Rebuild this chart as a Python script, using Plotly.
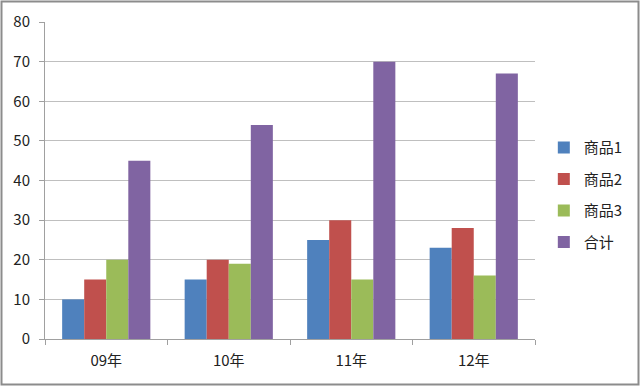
import plotly.graph_objects as go

categories = ["09年", "10年", "11年", "12年"]
series_names = ["商品1", "商品2", "商品3", "合计"]
product1 = [10, 15, 25, 23]
product2 = [15, 20, 30, 28]
product3 = [20, 19, 15, 16]
total = [45, 54, 70, 67]
colors = ["#4F81BD", "#C0504D", "#9BBB59", "#8064A2"]

fig = go.Figure()
for i, (name, vals) in enumerate(zip(series_names, [product1, product2, product3, total])):
    fig.add_trace(go.Bar(x=categories, y=vals, name=name, marker_color=colors[i],
                         marker_line_width=0, legendgroup=name))

W, H = 640, 386
L, R, T, B = 45, 105, 22, 47
pw, ph = W - L - R, H - T - B

fig.update_layout(
    width=W, height=H,
    margin=dict(l=L, r=R, t=T, b=B, autoexpand=False),
    paper_bgcolor="white", plot_bgcolor="white",
    barmode="group", bargap=0.28, bargroupgap=0,
    font=dict(family="Noto Sans CJK SC, sans-serif", size=15, color="#222"),
    legend=dict(x=1.018, y=0.455, yanchor="middle", xanchor="left",
                font=dict(size=15), tracegroupgap=9, itemwidth=30),
    showlegend=True,
)
fig.update_yaxes(range=[0, 80], dtick=10, showgrid=True, gridcolor="#BFBFBF", gridwidth=1,
                 showline=True, linecolor="#A0A0A0", ticks="outside", ticklen=5,
                 tickcolor="#A0A0A0", zeroline=False, tickfont=dict(size=15),
                 ticklabelstandoff=6)
fig.update_xaxes(showline=True, linecolor="#A0A0A0", ticks="outside", ticklen=5,
                 tickcolor="#A0A0A0", tickson="boundaries", tickfont=dict(size=15),
                 ticklabelstandoff=8)

# outer border
fig.add_shape(type="rect", xref="paper", yref="paper",
              x0=-(L - 1.5) / pw, x1=1 + (R - 1.5) / pw,
              y0=-(B - 1.5) / ph, y1=1 + (T - 1.5) / ph,
              line=dict(color="#8C8C8C", width=2), fillcolor="rgba(0,0,0,0)")

fig.write_html("out.html", config={"displayModeBar": False},
               post_script="document.body.style.margin='0';document.body.style.overflow='hidden';")
